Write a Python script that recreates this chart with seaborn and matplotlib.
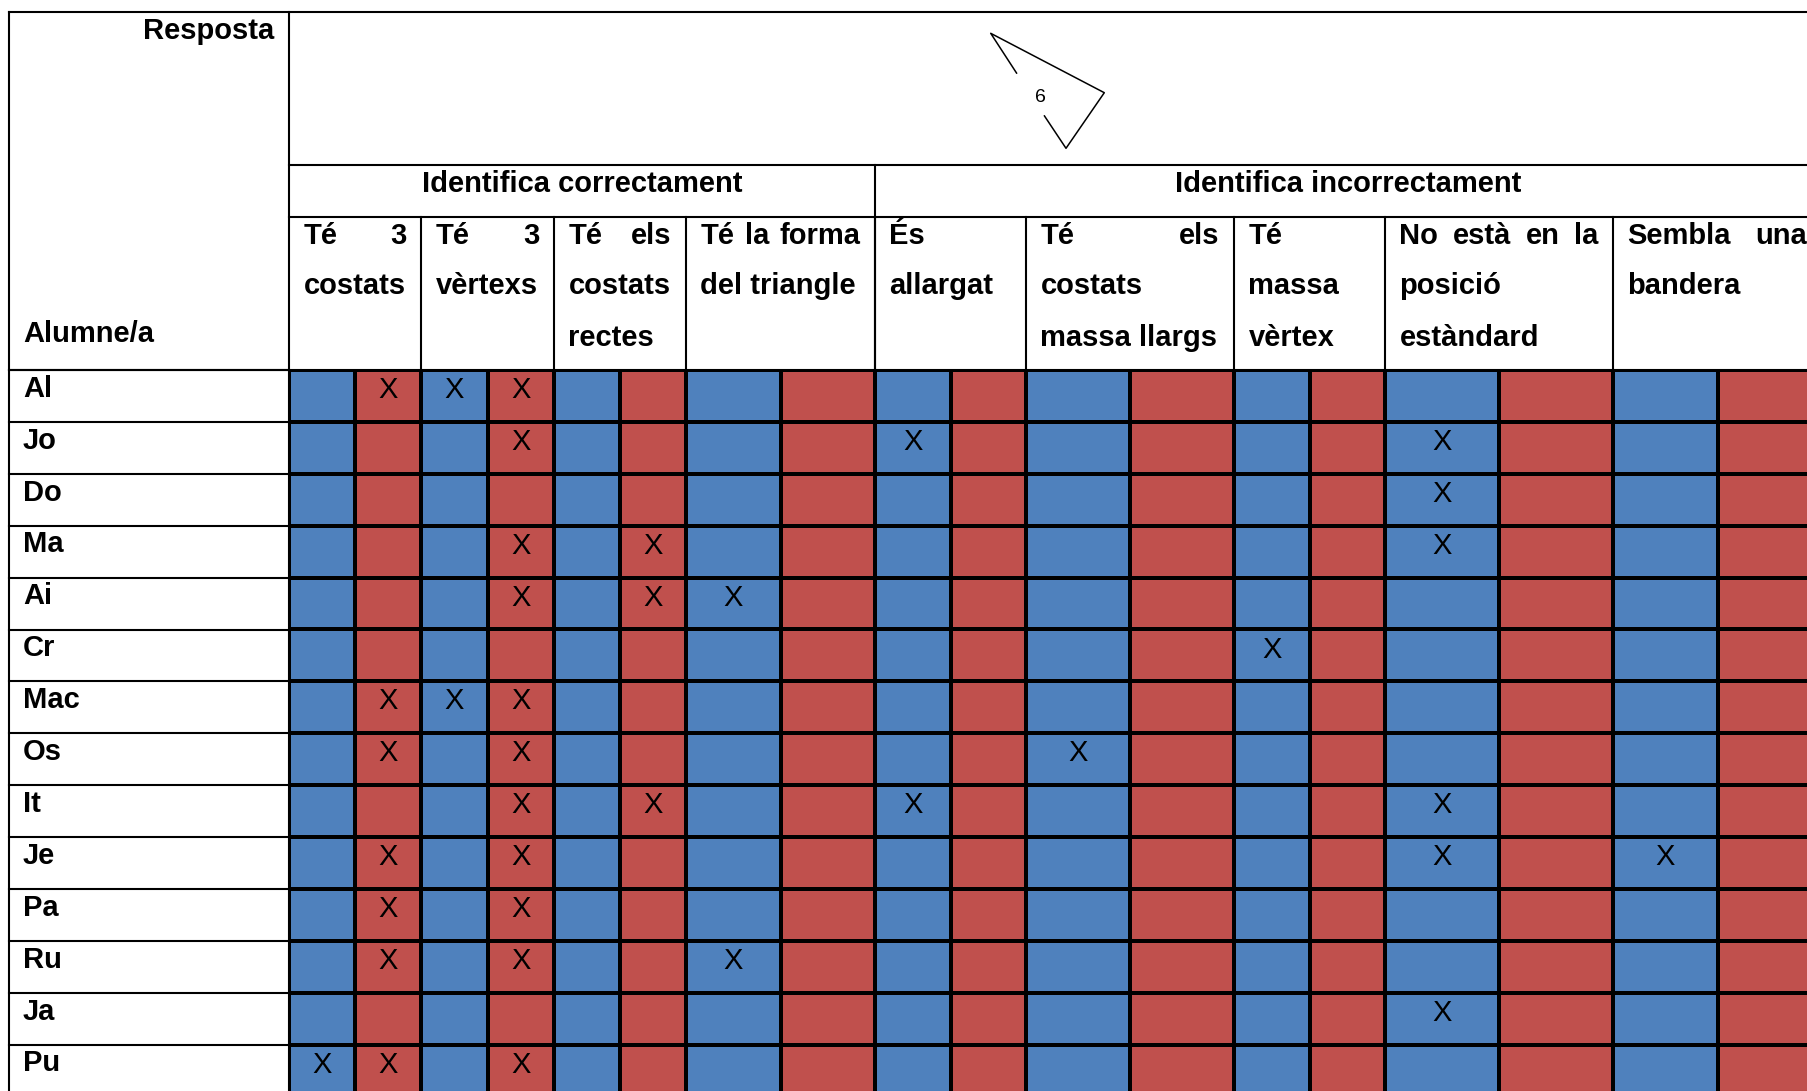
import numpy as np
import pandas as pd
import matplotlib
matplotlib.use("Agg")
import matplotlib.pyplot as plt
from matplotlib.colors import ListedColormap
import seaborn as sns

# ---------------- data ----------------
students = ["Al", "Jo", "Do", "Ma", "Ai", "Cr", "Mac", "Os", "It", "Je",
            "Pa", "Ru", "Ja", "Pu"]
main_groups = ["Identifica correctament", "Identifica incorrectament"]
criteria = ["Té 3 costats", "Té 3 vèrtexs", "Té els costats rectes",
            "Té la forma del triangle", "És allargat",
            "Té els costats massa llargs", "Té massa vèrtex",
            "No està en la posició estàndard", "Sembla una bandera"]
# how each criterion header wraps in the reference (text, justified?)
criteria_lines = [
    [("Té 3", True), ("costats", False)],
    [("Té 3", True), ("vèrtexs", False)],
    [("Té els", True), ("costats", False), ("rectes", False)],
    [("Té la forma", True), ("del triangle", False)],
    [("És", False), ("allargat", False)],
    [("Té els", True), ("costats", False), ("massa llargs", False)],
    [("Té", False), ("massa", False), ("vèrtex", False)],
    [("No està en la", True), ("posició", False), ("estàndard", False)],
    [("Sembla una", True), ("bandera", False)],
]
criteria_group = [0, 0, 0, 0, 1, 1, 1, 1, 1]
# marked sub-columns (0..17, two per criterion) for each student
x_marks = [
    [1, 2, 3],        # Al
    [3, 8, 14],       # Jo
    [14],             # Do
    [3, 5, 14],       # Ma
    [3, 5, 6],        # Ai
    [12],             # Cr
    [1, 2, 3],        # Mac
    [1, 3, 10],       # Os
    [3, 5, 8, 14],    # It
    [1, 3, 14, 16],   # Je
    [1, 3],           # Pa
    [1, 3, 6],        # Ru
    [14],             # Ja
    [0, 1, 3],        # Pu
]
header_left = "Resposta"
header_rows = "Alumne/a"
figure_label = "6"

# ---------------- layout ----------------
W, H = 1807, 1091
X_LEFT = 9.5
GROUP_EDGES = [289, 421, 554, 686, 875, 1026, 1234, 1385, 1613, 1822]
Y_TOP, Y_H1, Y_H2, Y_ROWS = 11.5, 165, 217, 370
ROW_H = 51.9
BASE = 26.5       # baseline offset from cell top
LINE_SP = 51      # header line spacing
PAD = 14.5
FS = 21
LW = 1.5
BLUE, RED = "#4F81BD", "#C0504D"

sns.set_theme(style="white")
plt.rcParams["font.family"] = ["Liberation Sans", "DejaVu Sans"]

fig = plt.figure(figsize=(W / 100, H / 100), dpi=100)
fig.patch.set_facecolor("white")

ov = fig.add_axes([0, 0, 1, 1])
ov.set_xlim(0, W)
ov.set_ylim(H, 0)
ov.axis("off")
ov.patch.set_alpha(0)

# ---------------- cells via seaborn heatmaps ----------------
n_rows = len(students)
annot_full = np.full((n_rows, 18), "", dtype=object)
for r, cols in enumerate(x_marks):
    for c in cols:
        annot_full[r, c] = "X"
color_codes = np.tile([0, 1], (n_rows, 1))
cmap = ListedColormap([BLUE, RED])

for g in range(len(criteria)):
    L, R = GROUP_EDGES[g], GROUP_EDGES[g + 1]
    h = n_rows * ROW_H
    ax = fig.add_axes([L / W, 1 - (Y_ROWS + h) / H, (R - L) / W, h / H])
    df = pd.DataFrame(color_codes, index=students, columns=["sí", "no"])
    sns.heatmap(df, ax=ax, cmap=cmap, vmin=0, vmax=1, cbar=False,
                linewidths=LW, linecolor="black",
                annot=annot_full[:, 2 * g:2 * g + 2], fmt="",
                annot_kws=dict(fontsize=FS, color="black", va="baseline",
                               family="Liberation Sans"),
                xticklabels=False, yticklabels=False)
    ax.set_xlabel("")
    ax.set_ylabel("")
    for t in ax.texts:
        x, y = t.get_position()
        t.set_position((x, y + 0.04))

# ---------------- table grid lines ----------------
kw = dict(color="black", lw=LW, solid_capstyle="projecting")
ov.plot([X_LEFT, W + 5], [Y_TOP, Y_TOP], **kw)
ov.plot([X_LEFT, X_LEFT], [Y_TOP, H + 5], **kw)
ov.plot([GROUP_EDGES[0], GROUP_EDGES[0]], [Y_TOP, H + 5], **kw)
ov.plot([GROUP_EDGES[0], W + 5], [Y_H1, Y_H1], **kw)
ov.plot([GROUP_EDGES[0], W + 5], [Y_H2, Y_H2], **kw)
ov.plot([X_LEFT, W + 5], [Y_ROWS, Y_ROWS], **kw)
split = GROUP_EDGES[criteria_group.index(1)]
ov.plot([split, split], [Y_H1, Y_ROWS], **kw)
for e in GROUP_EDGES[1:-1]:
    ov.plot([e, e], [Y_H2, Y_ROWS], **kw)
for r in range(n_rows + 1):
    y = Y_ROWS + r * ROW_H
    ov.plot([X_LEFT, GROUP_EDGES[0]], [y, y], **kw)

# ---------------- texts ----------------
tkw = dict(fontsize=FS, fontweight="bold", color="black", va="baseline")
ov.text(274, Y_TOP + 27.5, header_left, ha="right", **tkw)
ov.text(23, 342.5, header_rows, ha="left", **tkw)
for r, name in enumerate(students):
    ov.text(23, Y_ROWS + r * ROW_H + BASE + 0.3, name, ha="left", **tkw)

# main group headers
gl = [GROUP_EDGES[0], split]
gr = [split, GROUP_EDGES[-1]]
for i, name in enumerate(main_groups):
    ov.text((gl[i] + gr[i]) / 2, Y_H1 + BASE, name, ha="center", **tkw)

renderer = fig.canvas.get_renderer()
for g, lines in enumerate(criteria_lines):
    L, R = GROUP_EDGES[g] + PAD, GROUP_EDGES[g + 1] - PAD
    for k, (line, just) in enumerate(lines):
        y = Y_H2 + BASE + k * LINE_SP
        words = line.split(" ")
        if just and len(words) > 1:
            ts = [ov.text(0, y, w, ha="left", **tkw) for w in words]
            widths = [t.get_window_extent(renderer).width for t in ts]
            gap = (R - L - sum(widths)) / (len(words) - 1)
            x = L
            for t, w in zip(ts, widths):
                t.set_x(x)
                x += w + gap
        else:
            ov.text(L, y, line, ha="left", **tkw)

# small figure sketch in the header
shape_x = [1016.7, 990.7, 1104.3, 1066.0, 1044.3]
shape_y = [73.3, 33.3, 92.7, 148.3, 115.7]
ov.plot(shape_x, shape_y, color="black", lw=1.1)
ov.text(1040, 97.5, figure_label, ha="center", va="center", fontsize=14,
        color="black")

fig.savefig("out.png", dpi=100)
